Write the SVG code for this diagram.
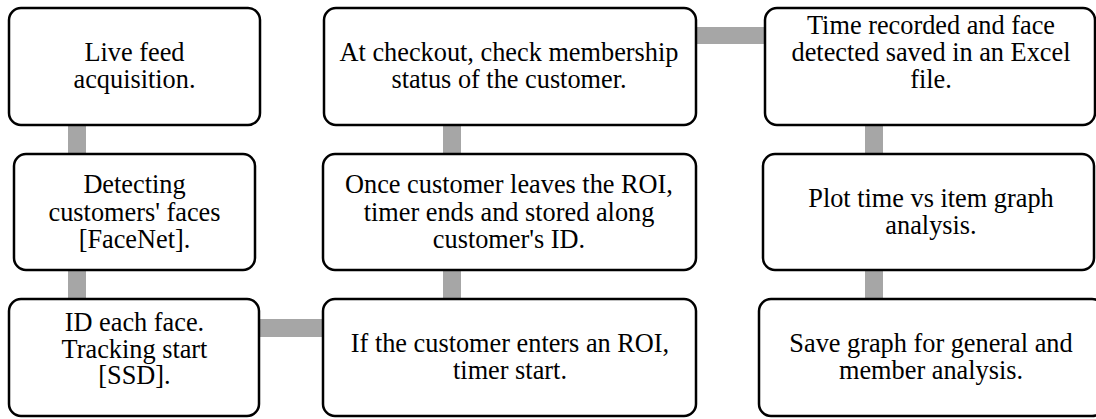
<svg xmlns="http://www.w3.org/2000/svg" width="1096" height="419" viewBox="0 0 1096 419">
<style>
.box{fill:#fff;stroke:#000;stroke-width:2.5}
.bar{fill:#a6a6a6}
</style>
<rect width="1096" height="419" fill="#fff"/>
<g id="connectors">
<rect class="bar" x="68" y="120" width="18" height="40"/>
<rect class="bar" x="68" y="265" width="18" height="40"/>
<rect class="bar" x="255" y="319" width="72" height="18"/>
<rect class="bar" x="443" y="265" width="18" height="40"/>
<rect class="bar" x="443" y="120" width="18" height="40"/>
<rect class="bar" x="692" y="27" width="77" height="17"/>
<rect class="bar" x="865" y="120" width="18" height="40"/>
<rect class="bar" x="865" y="265" width="18" height="40"/>
</g>
<g font-family="Liberation Serif, serif" font-size="26.3" fill="#000" text-anchor="middle">
<g id="n1"><rect class="box" x="9" y="8" width="251" height="117" rx="12"/>
<text x="134.5" y="61">Live feed</text><text x="134.5" y="88">acquisition.</text></g>
<g id="n2"><rect class="box" x="14" y="154" width="241" height="116" rx="12"/>
<text x="134.5" y="193">Detecting</text><text x="134.5" y="221">customers' faces</text><text x="134.5" y="248">[FaceNet].</text></g>
<g id="n3"><rect class="box" x="9" y="299" width="250" height="117" rx="12"/>
<text x="134.5" y="331">ID each face.</text><text x="134.5" y="357.5">Tracking start</text><text x="134.5" y="384">[SSD].</text></g>
<g id="n4"><rect class="box" x="323" y="299" width="373" height="117" rx="12"/>
<text x="510" y="352">If the customer enters an ROI,</text><text x="510" y="379">timer start.</text></g>
<g id="n5"><rect class="box" x="323" y="154" width="373" height="116" rx="12"/>
<text x="509" y="193">Once customer leaves the ROI,</text><text x="509" y="221">timer ends and stored along</text><text x="509" y="248">customer's ID.</text></g>
<g id="n6"><rect class="box" x="324" y="8" width="372" height="117" rx="12"/>
<text x="509" y="61">At checkout, check membership</text><text x="509" y="88">status of the customer.</text></g>
<g id="n7"><rect class="box" x="765" y="8" width="330" height="117" rx="12"/>
<text x="931" y="34">Time recorded and face</text><text x="931" y="61">detected saved in an Excel</text><text x="931" y="88">file.</text></g>
<g id="n8"><rect class="box" x="763" y="154" width="331" height="116" rx="12"/>
<text x="931" y="207">Plot time vs item graph</text><text x="931" y="234">analysis.</text></g>
<g id="n9"><rect class="box" x="759" y="299" width="345" height="117" rx="12"/>
<text x="931" y="352">Save graph for general and</text><text x="931" y="379">member analysis.</text></g>
</g>
</svg>
